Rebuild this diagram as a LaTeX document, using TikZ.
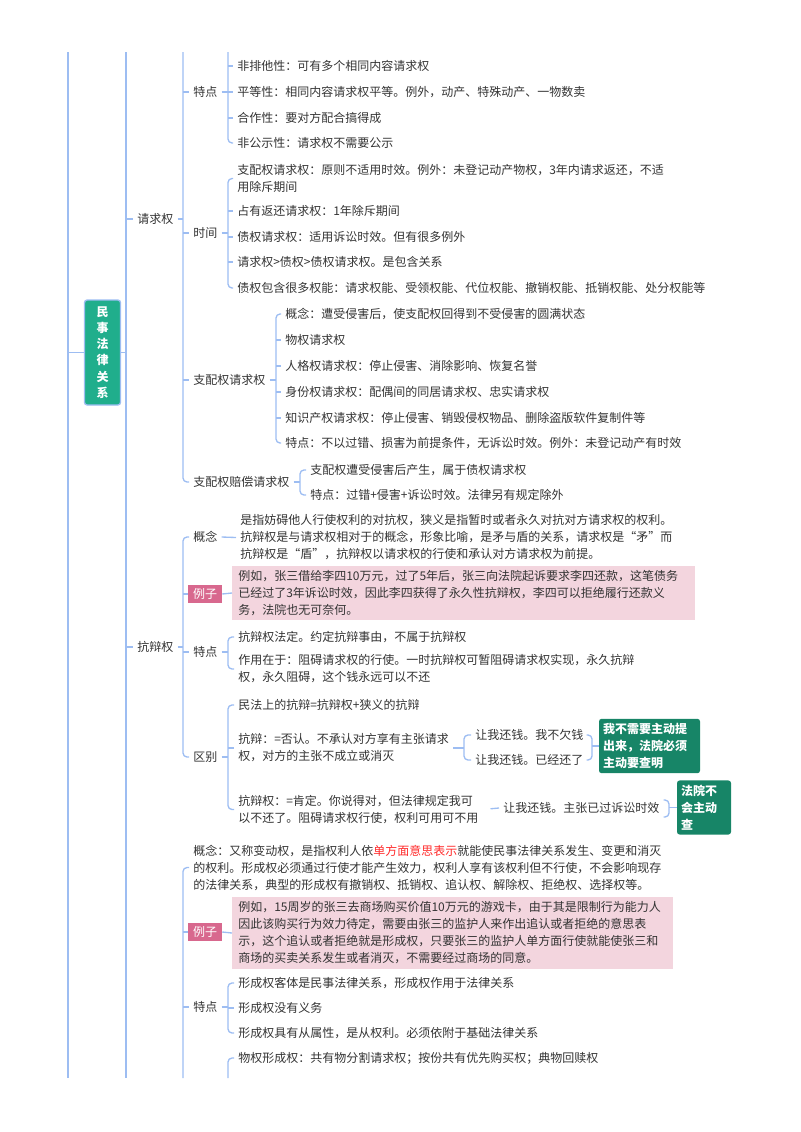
\documentclass[tikz,border=0pt]{standalone}
\usepackage{fontspec}
\setmainfont{Noto Sans CJK SC}
\definecolor{linec}{HTML}{9DBDF2}
\definecolor{textc}{HTML}{333333}
\definecolor{rootc}{HTML}{20AE8C}
\definecolor{greenc}{HTML}{178567}
\definecolor{tagc}{HTML}{D8688E}
\definecolor{pinkc}{HTML}{F3D5DE}
\definecolor{redc}{HTML}{FF2A2A}
\begin{document}
\begin{tikzpicture}[x=0.75pt,y=-0.75pt,
  conn/.style={draw=linec, line width=1pt},
  rc/.style={rounded corners=3pt},
  txt/.style={anchor=west, align=left, inner xsep=3pt, inner ysep=1pt, text=textc, font=\fontsize{9pt}{12.75pt}\selectfont},
  tagn/.style={fill=tagc, text=white, inner xsep=3.75pt, inner ysep=2.5pt, font=\fontsize{9pt}{12.75pt}\selectfont},
  pbox/.style={fill=pinkc, anchor=west, align=left, inner xsep=4.5pt, text=textc, font=\fontsize{9pt}{12.75pt}\selectfont},
  gbox/.style={fill=greenc, text=white, rounded corners=2pt, align=left, inner xsep=3pt, font=\fontsize{9pt}{12.75pt}\selectfont\bfseries},
  rootn/.style={fill=rootc, draw=linec, line width=1pt, rounded corners=2pt, text=white, align=center, minimum width=27pt, minimum height=78.75pt, font=\fontsize{9pt}{12.15pt}\selectfont\bfseries}
]
\useasboundingbox (0,0) rectangle (800,1132);

% ---------- nodes ----------
\node[rootn] (root) at (102.5,352.5) {民\\事\\法\\律\\关\\系};
\node[txt] (qq) at (133,219) {请求权};
\node[txt] (kb) at (133,647) {抗辩权};

% 请求权
\node[txt] (qtd) at (189,92) {特点};
\node[txt] (qsj) at (189,233) {时间};
\node[txt] (qzp) at (189,380) {支配权请求权};
\node[txt] (qzpc) at (189,482) {支配权赔偿请求权};

\node[txt] (qtd1) at (233,66) {非排他性：可有多个相同内容请求权};
\node[txt] (qtd2) at (233,92) {平等性：相同内容请求权平等。例外，动产、特殊动产、一物数卖};
\node[txt] (qtd3) at (233,118) {合作性：要对方配合搞得成};
\node[txt] (qtd4) at (233,143) {非公示性：请求权不需要公示};

\node[txt] (qsj1) at (233,178.5) {支配权请求权：原则不适用时效。例外：未登记动产物权，3年内请求返还，不适\\用除斥期间};
\node[txt] (qsj2) at (233,211) {占有返还请求权：1年除斥期间};
\node[txt] (qsj3) at (233,237) {债权请求权：适用诉讼时效。但有很多例外};
\node[txt] (qsj4) at (233,262) {请求权>债权>债权请求权。是包含关系};
\node[txt] (qsj5) at (233,288) {债权包含很多权能：请求权能、受领权能、代位权能、撤销权能、抵销权能、处分权能等};

\node[txt] (qzp1) at (281,314) {概念：遭受侵害后，使支配权回得到不受侵害的圆满状态};
\node[txt] (qzp2) at (281,340) {物权请求权};
\node[txt] (qzp3) at (281,366) {人格权请求权：停止侵害、消除影响、恢复名誉};
\node[txt] (qzp4) at (281,392) {身份权请求权：配偶间的同居请求权、忠实请求权};
\node[txt] (qzp5) at (281,418) {知识产权请求权：停止侵害、销毁侵权物品、删除盗版软件复制件等};
\node[txt] (qzp6) at (281,443) {特点：不以过错、损害为前提条件，无诉讼时效。例外：未登记动产有时效};

\node[txt] (qzpc1) at (306,470) {支配权遭受侵害后产生，属于债权请求权};
\node[txt] (qzpc2) at (306,495) {特点：过错+侵害+诉讼时效。法律另有规定除外};

% 抗辩权
\node[txt] (kgn) at (189,537) {概念};
\node[txt] (kgnt) at (236,537.5) {是指妨碍他人行使权利的对抗权，狭义是指暂时或者永久对抗对方请求权的权利。\\抗辩权是与请求权相对于的概念，形象比喻，是矛与盾的关系，请求权是“矛”而\\抗辩权是“盾”，抗辩权以请求权的行使和承认对方请求权为前提。};
\node[tagn] (klz) at (205,594) {例子};
\node[pbox, text width=338.25pt, minimum height=37.5pt] (klzt) at (232,593) {例如，张三借给李四10万元，过了5年后，张三向法院起诉要求李四还款，这笔债务\\已经过了3年诉讼时效，因此李四获得了永久性抗辩权，李四可以拒绝履行还款义\\务，法院也无可奈何。};
\node[txt] (ktd) at (189,652) {特点};
\node[txt] (kqb) at (189,757) {区别};

\node[txt] (kt1) at (234,637) {抗辩权法定。约定抗辩事由，不属于抗辩权};
\node[txt] (kt2) at (234,669) {作用在于：阻碍请求权的行使。一时抗辩权可暂阻碍请求权实现，永久抗辩\\权，永久阻碍，这个钱永远可以不还};

\node[txt] (kq1) at (234,705) {民法上的抗辩=抗辩权+狭义的抗辩};
\node[txt] (kq2) at (234,748) {抗辩：=否认。不承认对方享有主张请求\\权，对方的主张不成立或消灭};
\node[txt] (kq3) at (234,809.5) {抗辩权：=肯定。你说得对，但法律规定我可\\以不还了。阻碍请求权行使，权利可用可不用};
\node[txt] (kq21) at (471,735) {让我还钱。我不欠钱};
\node[txt] (kq22) at (471,760) {让我还钱。已经还了};
\node[txt] (kq4) at (499,808) {让我还钱。主张已过诉讼时效};
\node[gbox, text width=69.75pt, minimum height=40.5pt] (b1) at (649.5,746) {我不需要主动提\\出来，法院必须\\主动要查明};
\node[gbox, text width=34.5pt, minimum height=39.75pt] (b2) at (704,807.5) {法院不\\会主动\\查};

% 形成权
\node[txt] (xgn) at (189,867.5) {概念：又称变动权，是指权利人依{\color{redc}单方面意思表示}就能使民事法律关系发生、变更和消灭\\的权利。形成权必须通过行使才能产生效力，权利人享有该权利但不行使，不会影响现存\\的法律关系，典型的形成权有撤销权、抵销权、追认权、解除权、拒绝权、选择权等。};
\node[tagn] (xlz) at (205,932) {例子};
\node[pbox, text width=321.75pt, minimum height=51pt] (xlzt) at (232,933) {例如，15周岁的张三去商场购买价值10万元的游戏卡，由于其是限制行为能力人\\因此该购买行为效力待定，需要由张三的监护人来作出追认或者拒绝的意思表\\示，这个追认或者拒绝就是形成权，只要张三的监护人单方面行使就能使张三和\\商场的买卖关系发生或者消灭，不需要经过商场的同意。};
\node[txt] (xtd) at (189,1007) {特点};
\node[txt] (xt1) at (234,983) {形成权客体是民事法律关系，形成权作用于法律关系};
\node[txt] (xt2) at (234,1008) {形成权没有义务};
\node[txt] (xt3) at (234,1033) {形成权具有从属性，是从权利。必须依附于基础法律关系};
\node[txt] (xwq) at (234,1058) {物权形成权：共有物分割请求权；按份共有优先购买权；典物回赎权};

% ---------- bus coordinates ----------
\coordinate (t0) at (68,52);   \coordinate (e0) at (68,1078);
\coordinate (t1) at (126,52);  \coordinate (e1) at (126,1078);
\coordinate (t2) at (183,52);  \coordinate (e2) at (183,1078);
\coordinate (t3) at (228,52);  \coordinate (e3) at (228,1078);
\coordinate (bsj) at (228,0);
\coordinate (bzp) at (276,0);
\coordinate (bzpc) at (300,0);
\coordinate (bkq2) at (464,0);
\coordinate (br1) at (592,0);
\coordinate (br2) at (669,0);

% ---------- connectors ----------
% level 0 / 1
\draw[conn] (t0) -- (e0);
\draw[conn] (t0 |- root.west) -- (root.west);
\draw[conn] (t1) -- (e1);
\draw[conn] (root.east) -- (t1 |- root.east);
\draw[conn] (t1 |- qq.west) -- (qq.west);
\draw[conn] (t1 |- kb.west) -- (kb.west);

% 请求权 children
\draw[conn] (qq.east) -- (t2 |- qq.east);
\draw[conn, rc] (t2) -- (t2 |- qzpc.west) -- (qzpc.west);
\draw[conn] (t2 |- qtd.west) -- (qtd.west);
\draw[conn] (t2 |- qsj.west) -- (qsj.west);
\draw[conn] (t2 |- qzp.west) -- (qzp.west);

% 特点
\draw[conn] (qtd.east) -- (t3 |- qtd.east);
\draw[conn, rc] (t3) -- (t3 |- qtd4.west) -- (qtd4.west);
\draw[conn] (t3 |- qtd1.west) -- (qtd1.west);
\draw[conn] (t3 |- qtd2.west) -- (qtd2.west);
\draw[conn] (t3 |- qtd3.west) -- (qtd3.west);

% 时间
\draw[conn] (qsj.east) -- (bsj |- qsj.east);
\draw[conn, rc] (qsj1.west) -- (bsj |- qsj1.west) -- (bsj |- qsj5.west) -- (qsj5.west);
\draw[conn] (bsj |- qsj2.west) -- (qsj2.west);
\draw[conn] (bsj |- qsj3.west) -- (qsj3.west);
\draw[conn] (bsj |- qsj4.west) -- (qsj4.west);

% 支配权请求权
\draw[conn] (qzp.east) -- (bzp |- qzp.east);
\draw[conn, rc] (qzp1.west) -- (bzp |- qzp1.west) -- (bzp |- qzp6.west) -- (qzp6.west);
\draw[conn] (bzp |- qzp2.west) -- (qzp2.west);
\draw[conn] (bzp |- qzp3.west) -- (qzp3.west);
\draw[conn] (bzp |- qzp4.west) -- (qzp4.west);
\draw[conn] (bzp |- qzp5.west) -- (qzp5.west);

% 支配权赔偿请求权
\draw[conn] (qzpc.east) -- (bzpc |- qzpc.east);
\draw[conn, rc] (qzpc1.west) -- (bzpc |- qzpc1.west) -- (bzpc |- qzpc2.west) -- (qzpc2.west);

% 抗辩权 children
\draw[conn] (kb.east) -- (t2 |- kb.east);
\draw[conn, rc] (kgn.west) -- (t2 |- kgn.west) -- (t2 |- kqb.west) -- (kqb.west);
\draw[conn] (t2 |- klz.west) -- (klz.west);
\draw[conn] (t2 |- ktd.west) -- (ktd.west);
\draw[conn] (kgn.east) -- (kgnt.west);
\draw[conn] (klz.east) -- (klzt.west);

\draw[conn] (ktd.east) -- (t3 |- ktd.east);
\draw[conn, rc] (kt1.west) -- (t3 |- kt1.west) -- (t3 |- kt2.west) -- (kt2.west);

\draw[conn] (kqb.east) -- (t3 |- kqb.east);
\draw[conn, rc] (kq1.west) -- (t3 |- kq1.west) -- (t3 |- kq3.west) -- (kq3.west);
\draw[conn] (t3 |- kq2.west) -- (kq2.west);

\draw[conn] (kq2.east) -- (bkq2 |- kq2.east);
\draw[conn, rc] (kq21.west) -- (bkq2 |- kq21.west) -- (bkq2 |- kq22.west) -- (kq22.west);
\draw[conn, shorten <=6pt] (kq3.east) -- (kq4.west);

% summaries
\draw[conn, rc] ([xshift=-4pt]br1 |- kq21.west) -- (br1 |- kq21.west) -- (br1 |- kq22.west) -- ([xshift=-4pt]br1 |- kq22.west);
\draw[conn] (br1 |- b1.west) -- (b1.west);
\draw[conn, rc] ([xshift=-4pt]br2 |- 0,800) -- (br2 |- 0,800) -- (br2 |- 0,817) -- ([xshift=-4pt]br2 |- 0,817);
\draw[conn] (br2 |- b2.west) -- (b2.west);

% 形成权 children
\draw[conn, rc] (xgn.west) -- (t2 |- xgn.west) -- (e2);
\draw[conn] (t2 |- xlz.west) -- (xlz.west);
\draw[conn] (t2 |- xtd.west) -- (xtd.west);
\draw[conn] (xlz.east) -- (xlzt.west);
\draw[conn] (xtd.east) -- (t3 |- xtd.east);
\draw[conn, rc] (xt1.west) -- (t3 |- xt1.west) -- (t3 |- xt3.west) -- (xt3.west);
\draw[conn] (t3 |- xt2.west) -- (xt2.west);
\draw[conn, rc] (xwq.west) -- (t3 |- xwq.west) -- (e3);
\end{tikzpicture}
\end{document}
